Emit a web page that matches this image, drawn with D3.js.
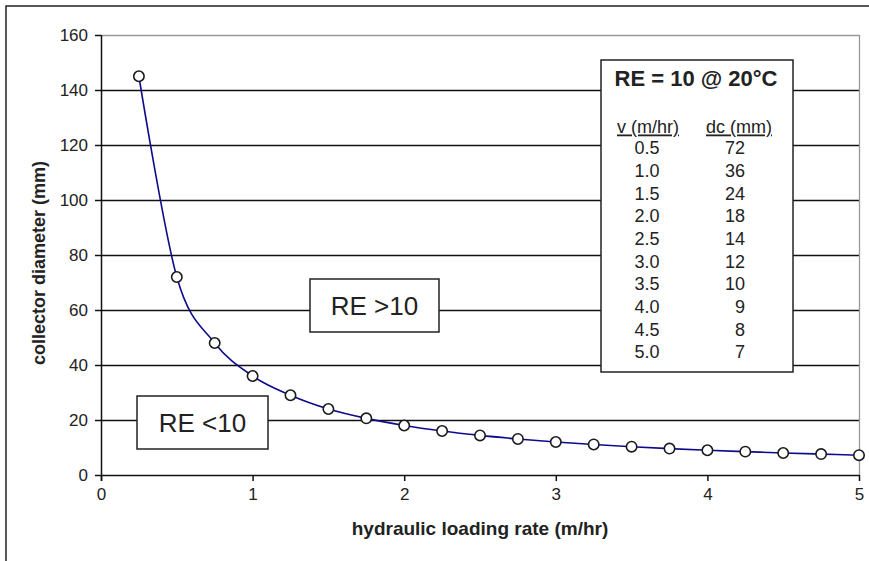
<!DOCTYPE html>
<html lang="en">
<head>
  <meta charset="UTF-8">
  <title>collector diameter vs hydraulic loading rate</title>
  <script src="https://d3js.org/d3.v7.min.js"></script>
  <style>
    body { margin: 0; background: #fff; }
    svg { display: block; font-family: "Liberation Sans", Arial, sans-serif; }
  </style>
</head>
<body>
  <div id="chart"></div>
  <script>
    // curve points
    const loadingRate = [0.25, 0.5, 0.75, 1.0, 1.25, 1.5, 1.75, 2.0, 2.25, 2.5,
                         2.75, 3.0, 3.25, 3.5, 3.75, 4.0, 4.25, 4.5, 4.75, 5.0];
    const diameter = [145, 72, 48, 36, 29, 24, 20.6, 18, 16, 14.4,
                      13.1, 12, 11.1, 10.3, 9.6, 9, 8.5, 8, 7.6, 7.2];

    // inset table
    const tableV = ["0.5", "1.0", "1.5", "2.0", "2.5", "3.0", "3.5", "4.0", "4.5", "5.0"];
    const tableDc = ["72", "36", "24", "18", "14", "12", "10", "9", "8", "7"];

    const xTicks = [0, 1, 2, 3, 4, 5];
    const yTicks = [0, 20, 40, 60, 80, 100, 120, 140, 160];

    const width = 869, height = 561;
    const plotL = 101, plotR = 859, plotT = 35, plotB = 475;

    const svg = d3.select("#chart").append("svg")
        .attr("width", width)
        .attr("height", height);

    const x = d3.scaleLinear().domain([0, 5]).range([plotL, plotR]);
    const y = d3.scaleLinear().domain([0, 160]).range([plotB, plotT]);
    const crisp = v => Math.round(v) + 0.5;

    // outer frame (only top and left show)
    svg.append("path")
        .attr("d", `M6,${height} L6,6 L${width},6`)
        .attr("fill", "none")
        .attr("stroke", "#222")
        .attr("stroke-width", 1.5);

    // gridlines
    svg.append("g")
        .selectAll("line")
        .data(yTicks.filter(d => d > 0 && d < 160))
        .enter().append("line")
        .attr("x1", plotL).attr("x2", plotR)
        .attr("y1", d => crisp(y(d))).attr("y2", d => crisp(y(d)))
        .attr("stroke", "#111")
        .attr("stroke-width", 1.3);

    // plot area border, top and right in grey
    svg.append("path")
        .attr("d", `M${plotL},${crisp(y(160))} L${crisp(plotR)},${crisp(y(160))} L${crisp(plotR)},${y(0)}`)
        .attr("fill", "none")
        .attr("stroke", "#999")
        .attr("stroke-width", 1.3);

    // axes
    const xAxis = svg.append("g")
        .attr("transform", `translate(0,${plotB})`)
        .call(d3.axisBottom(x).tickValues(xTicks).tickFormat(d3.format("d")).tickSize(6).tickPadding(7));
    const yAxis = svg.append("g")
        .attr("transform", `translate(${plotL},0)`)
        .call(d3.axisLeft(y).tickValues(yTicks).tickSize(6).tickPadding(7));

    [xAxis, yAxis].forEach(g => {
      g.select(".domain").attr("stroke", "#111").attr("stroke-width", 1.5);
      g.selectAll(".tick line").attr("stroke", "#111").attr("stroke-width", 1.5);
      g.selectAll(".tick text")
          .attr("fill", "#222")
          .style("font-size", "17px")
          .style("font-family", "'Liberation Sans', Arial, sans-serif");
    });
    xAxis.select(".domain").attr("d", `M${plotL},0.5H${plotR}`);
    yAxis.select(".domain").attr("d", `M0.5,${y(160)}V${plotB + 6}`);

    // axis titles
    svg.append("text")
        .attr("x", 480).attr("y", 535)
        .attr("text-anchor", "middle")
        .attr("font-weight", "bold")
        .attr("font-size", 19)
        .attr("fill", "#222")
        .text("hydraulic loading rate (m/hr)");

    svg.append("text")
        .attr("transform", "translate(45,263) rotate(-90)")
        .attr("text-anchor", "middle")
        .attr("font-weight", "bold")
        .attr("font-size", 18)
        .attr("fill", "#222")
        .text("collector diameter (mm)");

    // RE label boxes
    function labelBox(x0, y0, w, h, txt) {
      svg.append("rect")
          .attr("x", x0).attr("y", y0)
          .attr("width", w).attr("height", h)
          .attr("fill", "#fff")
          .attr("stroke", "#222")
          .attr("stroke-width", 1.5);
      svg.append("text")
          .attr("x", x0 + w / 2).attr("y", y0 + h / 2)
          .attr("dy", "0.36em")
          .attr("text-anchor", "middle")
          .attr("font-size", 26)
          .attr("fill", "#222")
          .text(txt);
    }
    labelBox(310, 279, 129, 53, "RE >10");
    labelBox(137, 396, 131, 53, "RE <10");

    // inset table
    const tbl = svg.append("g");
    tbl.append("rect")
        .attr("x", 601).attr("y", 60)
        .attr("width", 192).attr("height", 312)
        .attr("fill", "#fff")
        .attr("stroke", "#222")
        .attr("stroke-width", 1.5);
    tbl.append("text")
        .attr("x", 696).attr("y", 78).attr("dy", "0.36em")
        .attr("text-anchor", "middle")
        .attr("font-size", 22)
        .attr("font-weight", "bold")
        .attr("fill", "#222")
        .text("RE = 10 @ 20°C");
    tbl.append("text")
        .attr("x", 648).attr("y", 127).attr("dy", "0.36em")
        .attr("text-anchor", "middle")
        .attr("font-size", 18)
        .attr("fill", "#222")
        .attr("text-decoration", "underline")
        .text("v (m/hr)");
    tbl.append("text")
        .attr("x", 739).attr("y", 127).attr("dy", "0.36em")
        .attr("text-anchor", "middle")
        .attr("font-size", 18)
        .attr("fill", "#222")
        .attr("text-decoration", "underline")
        .text("dc (mm)");

    const rowY = d3.scaleLinear().domain([0, 9]).range([148, 352]);
    tbl.selectAll(".vcell")
        .data(tableV)
        .enter().append("text")
        .attr("class", "vcell")
        .attr("x", 647).attr("y", (d, i) => rowY(i)).attr("dy", "0.36em")
        .attr("text-anchor", "middle")
        .attr("font-size", 18)
        .attr("fill", "#222")
        .text(d => d);
    tbl.selectAll(".dccell")
        .data(tableDc)
        .enter().append("text")
        .attr("class", "dccell")
        .attr("x", 745).attr("y", (d, i) => rowY(i)).attr("dy", "0.36em")
        .attr("text-anchor", "end")
        .attr("font-size", 18)
        .attr("fill", "#222")
        .text(d => d);

    // smoothed curve + markers (Excel-style smoothing)
    const pts = loadingRate.map((v, i) => [v, diameter[i]]);
    const line = d3.line()
        .x(d => x(d[0]))
        .y(d => y(d[1]))
        .curve(d3.curveCardinal.tension(0));

    svg.append("path")
        .datum(pts)
        .attr("d", line)
        .attr("fill", "none")
        .attr("stroke", "#0c0c8a")
        .attr("stroke-width", 1.6);

    svg.append("g")
        .selectAll("circle")
        .data(pts)
        .enter().append("circle")
        .attr("cx", d => x(d[0]))
        .attr("cy", d => y(d[1]))
        .attr("r", 5.2)
        .attr("fill", "#fff")
        .attr("stroke", "#1a1a1a")
        .attr("stroke-width", 1.6);
  </script>
</body>
</html>
